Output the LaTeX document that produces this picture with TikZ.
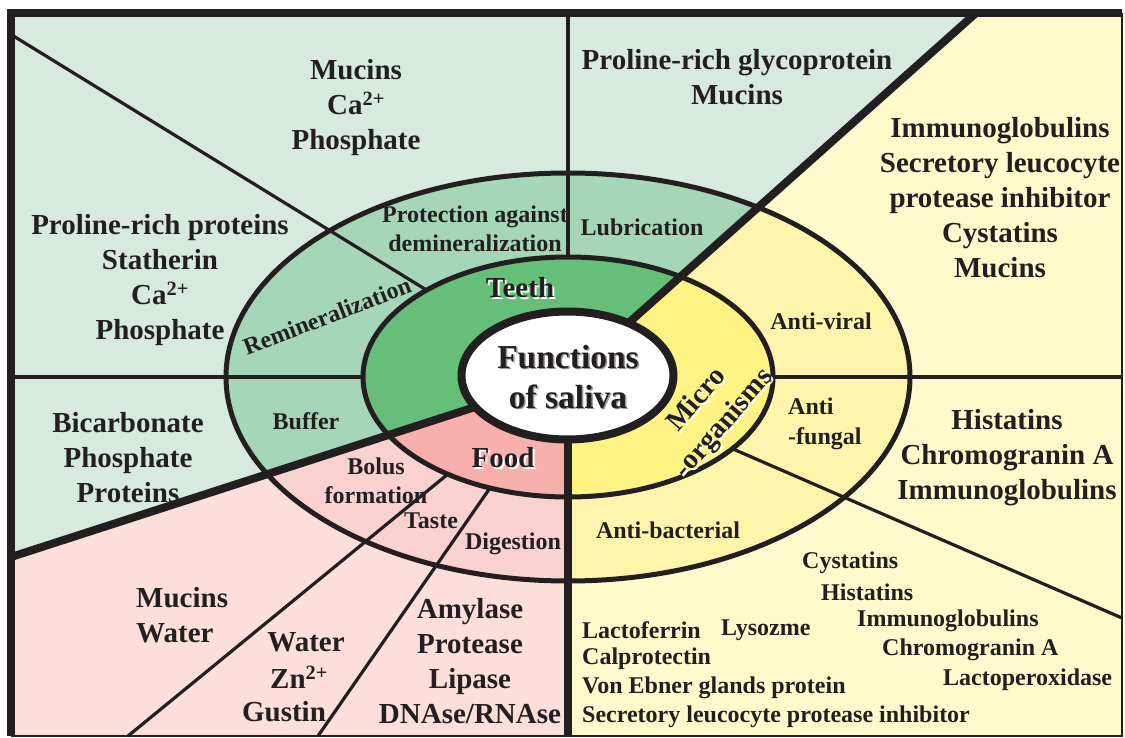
\documentclass[tikz,border=0pt]{standalone}
\usepackage{fontspec}
\setmainfont{Liberation Serif}
\definecolor{ink}{HTML}{231F20}
\definecolor{greenout}{HTML}{D6EBDE}
\definecolor{greenring}{HTML}{A6D6B8}
\definecolor{greenin}{HTML}{66BF78}
\definecolor{pinkout}{HTML}{FCDFDB}
\definecolor{pinkring}{HTML}{F9D2D0}
\definecolor{pinkin}{HTML}{F7B0AC}
\definecolor{yelout}{HTML}{FFF9CC}
\definecolor{yelring}{HTML}{FFF4AC}
\definecolor{yelin}{HTML}{FFF383}
\begin{document}
\begin{tikzpicture}[x=1pt,y=-1pt,
    biglab/.style={font=\bfseries\fontsize{29}{35}\selectfont, text=ink, align=center, inner sep=0pt},
    medlab/.style={font=\bfseries\fontsize{24}{29.5}\selectfont, text=ink, align=center, inner sep=0pt},
    funlab/.style={font=\bfseries\fontsize{33.5}{40}\selectfont, text=ink, align=center, inner sep=0pt},
    thinline/.style={ink, line width=3.2pt},
    ringline/.style={ink, line width=5pt},
    divider/.style={ink, line width=8pt}]
    \useasboundingbox (0,0) rectangle (1125,738);
    \coordinate (c) at (568,377);
    \coordinate (ne) at (976,13);
    \coordinate (sw) at (11,557);
    \coordinate (s) at (568,736);
    % teeth sector
    \begin{scope}
        \clip (c) -- (ne) -- (11,13) -- (sw) -- cycle;
        \fill[greenout] (0,0) rectangle (1125,738);
        \fill[greenring] (c) ellipse [x radius=342pt, y radius=204pt];
        \fill[greenin] (c) ellipse [x radius=205pt, y radius=120pt];
    \end{scope}
    % microorganisms sector
    \begin{scope}
        \clip (c) -- (ne) -- (1122,13) -- (1122,736) -- (s) -- cycle;
        \fill[yelout] (0,0) rectangle (1125,738);
        \fill[yelring] (c) ellipse [x radius=342pt, y radius=204pt];
        \fill[yelin] (c) ellipse [x radius=205pt, y radius=120pt];
    \end{scope}
    % food sector
    \begin{scope}
        \clip (c) -- (s) -- (11,736) -- (sw) -- cycle;
        \fill[pinkout] (0,0) rectangle (1125,738);
        \fill[pinkring] (c) ellipse [x radius=342pt, y radius=204pt];
        \fill[pinkin] (c) ellipse [x radius=205pt, y radius=120pt];
    \end{scope}
    \draw[thinline] (568,13) -- (568,257);
    \draw[thinline] (11,34.5) -- (426.6,290.1);
    \draw[thinline] (11,377) -- (363,377);
    \draw[thinline] (773,377) -- (1122,377);
    \draw[thinline] (733,449) -- (1122,618);
    \draw[thinline] (448,474) -- (128,736);
    \draw[thinline] (490,488) -- (318,736);
    \draw[ringline] (c) ellipse [x radius=342pt, y radius=204pt];
    \draw[ringline] (c) ellipse [x radius=205pt, y radius=120pt];
    \draw[divider] (c) -- (ne);
    \draw[divider] (c) -- (sw);
    \draw[divider] (c) -- (s);
    \filldraw[ink, fill=white, line width=8pt] (567.5,375.5) ellipse [x radius=106pt, y radius=64pt];
    \draw[ink, line width=8pt] (11,736) -- (11,13) -- (1122,13);
    \draw[ink, line width=1.5pt] (1122,13) -- (1122,736) -- (11,736);
    % centre and inner ring
    \node (funcsh) at (569.5,378.5) [funlab, text=black!40] {Functions\\of saliva};
    \node (func) at (568,377) [funlab] {Functions\\of saliva};
    \node (teethsh) at (522,290) [biglab, text=white] {Teeth};
    \node (teeth) at (520,288) [biglab] {Teeth};
    \node (foodsh) at (505,460) [biglab, text=white] {Food};
    \node (food) at (503,458) [biglab] {Food};
    \node (microsh) at (713,414) [biglab, text=white, rotate=49, font=\bfseries\fontsize{28.5}{36}\selectfont] {Micro\\-organisms};
    \node (micro) at (711,412) [biglab, rotate=49, font=\bfseries\fontsize{28.5}{36}\selectfont] {Micro\\-organisms};
    % teeth
    \node (mucins) at (356,108) [biglab] {Mucins\\Ca\textsuperscript{2+}\\Phosphate};
    \node (prgly) at (737,77) [biglab] {Proline-rich glycoprotein\\Mucins};
    \node (prprot) at (160,280) [biglab] {Proline-rich proteins\\Statherin\\Ca\textsuperscript{2+}\\Phosphate};
    \node (bicarb) at (128,458) [biglab] {Bicarbonate\\Phosphate\\Proteins};
    \node (protect) at (475,229) [medlab] {Protection against\\demineralization};
    \node (lubric) at (642,227) [medlab] {Lubrication};
    \node (remin) at (327,316) [medlab, rotate=21] {Remineralization};
    \node (buffer) at (306,421) [medlab] {Buffer};
    % food
    \node (bolus) at (376,481) [medlab] {Bolus\\formation};
    \node (taste) at (431,521) [medlab] {Taste};
    \node (digest) at (513,544) [medlab] {Digestion};
    \node (mucwat) at (136,615) [biglab, anchor=west, align=left] {Mucins\\Water};
    \node (water) at (306,642) [biglab] {Water};
    \node (zinc) at (299,677) [biglab] {Zn\textsuperscript{2+}};
    \node (gustin) at (284,712) [biglab] {Gustin};
    \node (enzymes) at (470,661) [biglab] {Amylase\\Protease\\Lipase\\DNAse/RNAse};
    % microorganisms
    \node (immuno) at (1000,198) [biglab] {Immunoglobulins\\Secretory leucocyte\\protease inhibitor\\Cystatins\\Mucins};
    \node (antiviral) at (821,321) [medlab] {Anti-viral};
    \node (antifung) at (788,424) [medlab, anchor=west, align=left] {Anti\\-fungal};
    \node (antibact) at (668,530) [medlab] {Anti-bacterial};
    \node (histat) at (1007,458) [biglab] {Histatins\\Chromogranin A\\Immunoglobulins};
    \node (cyst) at (802,563) [medlab, anchor=west] {Cystatins};
    \node (hist) at (821,592) [medlab, anchor=west] {Histatins};
    \node (immuno2) at (857,621) [medlab, anchor=west] {Immunoglobulins};
    \node (chromo) at (882,650) [medlab, anchor=west] {Chromogranin A};
    \node (lperox) at (943,680) [medlab, anchor=west] {Lactoperoxidase};
    \node (lactof) at (582,630) [medlab, anchor=west] {Lactoferrin};
    \node (lysoz) at (721,630) [medlab, anchor=west] {Lysozme};
    \node (calpro) at (582,659) [medlab, anchor=west] {Calprotectin};
    \node (vonebner) at (582,688) [medlab, anchor=west] {Von Ebner glands protein};
    \node (slpi) at (582,717) [medlab, anchor=west] {Secretory leucocyte protease inhibitor};
\end{tikzpicture}
\end{document}
